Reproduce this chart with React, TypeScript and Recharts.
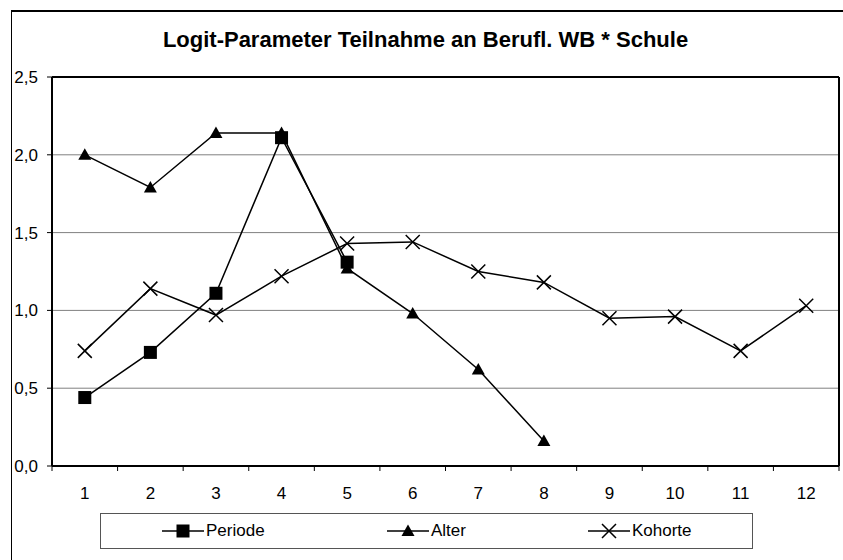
import React from 'react';
import { LineChart, Line, XAxis, YAxis, CartesianGrid, ReferenceLine, Legend } from 'recharts';

const categories = [1, 2, 3, 4, 5, 6, 7, 8, 9, 10, 11, 12];
const periode = [0.44, 0.73, 1.11, 2.11, 1.31];
const alter = [2.0, 1.79, 2.14, 2.14, 1.27, 0.98, 0.62, 0.16];
const kohorte = [0.74, 1.14, 0.97, 1.22, 1.43, 1.44, 1.25, 1.18, 0.95, 0.96, 0.74, 1.03];
const yTicks = [0, 0.5, 1, 1.5, 2, 2.5];
const seriesNames = ['Periode', 'Alter', 'Kohorte'];

const data = categories.map((c, i) => ({
  x: c,
  periode: i < periode.length ? periode[i] : null,
  alter: i < alter.length ? alter[i] : null,
  kohorte: kohorte[i],
}));

// category boundaries carry the tick marks, centers carry the labels
const xTicks: number[] = [];
categories.forEach(c => xTicks.push(c - 0.5, c));
xTicks.push(categories[categories.length - 1] + 0.5);

const FONT = '"Liberation Sans", Arial, sans-serif';

const Square = ({ cx, cy }: { cx: number; cy: number }) => (
  <rect x={cx - 6.5} y={cy - 6.5} width={13} height={13} fill="#000" />
);
const Triangle = ({ cx, cy }: { cx: number; cy: number }) => (
  <path d={`M${cx},${cy - 6.5} L${cx + 6.5},${cy + 5} L${cx - 6.5},${cy + 5} Z`} fill="#000" />
);
const Cross = ({ cx, cy }: { cx: number; cy: number }) => (
  <path d={`M${cx - 7},${cy - 7} L${cx + 7},${cy + 7} M${cx + 7},${cy - 7} L${cx - 7},${cy + 7}`} stroke="#000" strokeWidth={1.5} fill="none" />
);

const makeDot = (Shape: React.FC<{ cx: number; cy: number }>) => (p: any) => {
  if (p.value == null || p.cx == null || p.cy == null) return <g key={`e-${p.index}`} />;
  return <Shape key={`d-${p.index}`} cx={p.cx} cy={p.cy} />;
};

const XTick = (props: any) => {
  const { x, y, payload } = props;
  const v = payload.value;
  if (Number.isInteger(v)) {
    return (
      <text x={x} y={y + 33} textAnchor="middle" fill="#000" fontSize={17} fontFamily={FONT}>
        {v}
      </text>
    );
  }
  return <line x1={x} y1={y} x2={x} y2={y + 5} stroke="#000" strokeWidth={1} />;
};

const LegendIcon = ({ kind }: { kind: number }) => (
  <svg width={42} height={16} style={{ display: 'block' }}>
    <line x1={0} y1={8} x2={42} y2={8} stroke="#000" strokeWidth={1.5} />
    {kind === 0 && <Square cx={21} cy={8} />}
    {kind === 1 && <Triangle cx={21} cy={8} />}
    {kind === 2 && <Cross cx={21} cy={8} />}
  </svg>
);

const legendLefts = [61, 286, 487];

const LegendBox = () => (
  <div style={{ position: 'relative', width: 653, height: 36, border: '1px solid #555', boxSizing: 'border-box', fontFamily: FONT, fontSize: 17 }}>
    {seriesNames.map((n, i) => (
      <div key={n} style={{ position: 'absolute', left: legendLefts[i], top: 9, display: 'flex', alignItems: 'center' }}>
        <LegendIcon kind={i} />
        <span style={{ marginLeft: 2, lineHeight: '16px' }}>{n}</span>
      </div>
    ))}
  </div>
);

const App: React.FC = () => {
  return (
    <div style={{ position: 'absolute', left: 0, top: 0, width: 843, height: 560, overflow: 'hidden', background: '#fff' }}>
      <div style={{ position: 'absolute', left: 11, top: 10, width: 900, height: 600, borderLeft: '1px solid #000', borderTop: '2px solid #000' }} />
      <div style={{ position: 'absolute', left: 0, top: 28, width: 851, textAlign: 'center', fontFamily: FONT, fontWeight: 'bold', fontSize: 22, lineHeight: '24px', color: '#000' }}>
        Logit-Parameter Teilnahme an Berufl. WB * Schule
      </div>
      <div style={{ position: 'absolute', left: 0, top: 0 }}>
        <LineChart width={843} height={560} data={data} margin={{ top: 77, right: 4, bottom: 54, left: 0 }}>
          <CartesianGrid vertical={false} stroke="#808080" strokeWidth={1} />
          <XAxis
            dataKey="x"
            type="number"
            domain={[0.5, 12.5]}
            ticks={xTicks}
            interval={0}
            height={40}
            tickLine={false}
            tickSize={0}
            tickMargin={0}
            tick={<XTick />}
            axisLine={{ stroke: '#000', strokeWidth: 2 }}
          />
          <YAxis
            type="number"
            domain={[0, 2.5]}
            ticks={yTicks}
            width={52}
            tickSize={5}
            tickMargin={9}
            tickFormatter={(v: number) => v.toFixed(1).replace('.', ',')}
            tick={{ fill: '#000', fontSize: 17, fontFamily: FONT }}
            tickLine={{ stroke: '#000' }}
            axisLine={{ stroke: '#000', strokeWidth: 2 }}
          />
          <ReferenceLine y={2.5} stroke="#000" strokeWidth={2} />
          <ReferenceLine x={12.5} stroke="#000" strokeWidth={2} />
          <Line dataKey="periode" name="Periode" stroke="#000" strokeWidth={1.5} dot={makeDot(Square)} isAnimationActive={false} />
          <Line dataKey="alter" name="Alter" stroke="#000" strokeWidth={1.5} dot={makeDot(Triangle)} isAnimationActive={false} />
          <Line dataKey="kohorte" name="Kohorte" stroke="#000" strokeWidth={1.5} dot={makeDot(Cross)} isAnimationActive={false} />
          <Legend
            layout="horizontal"
            verticalAlign="middle"
            align="center"
            content={() => <LegendBox />}
            wrapperStyle={{ position: 'absolute', left: 100, top: 513, width: 653, height: 36 }}
          />
        </LineChart>
      </div>
    </div>
  );
};

export default App;
